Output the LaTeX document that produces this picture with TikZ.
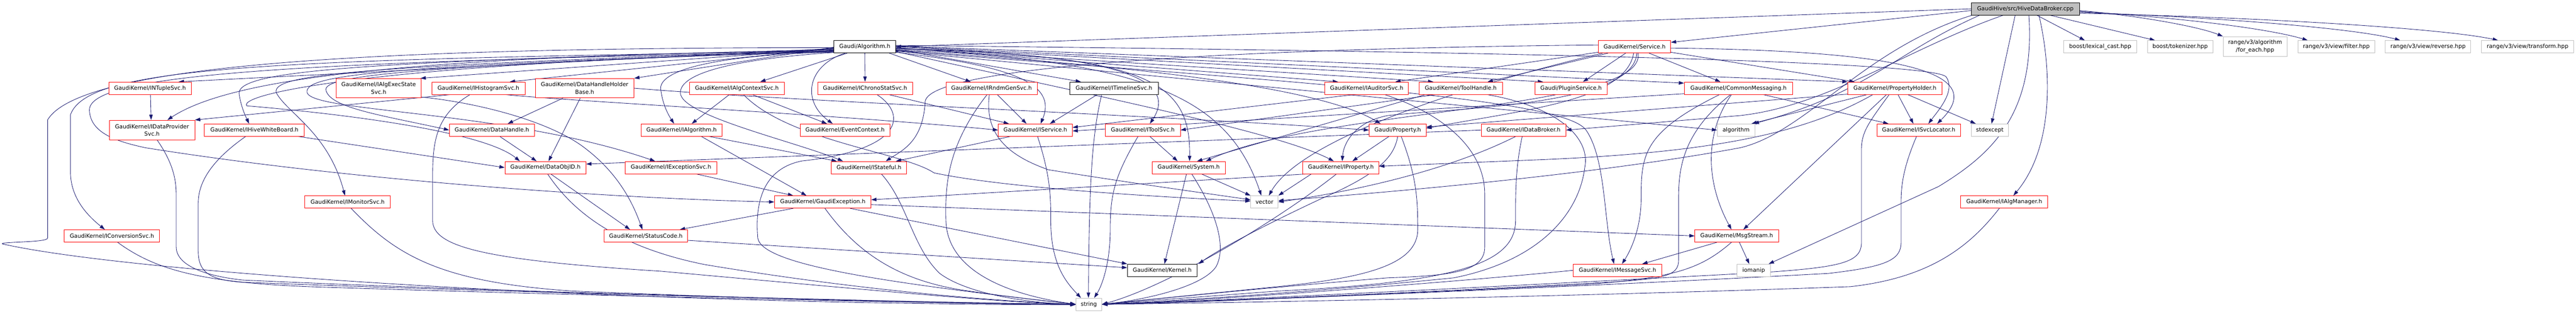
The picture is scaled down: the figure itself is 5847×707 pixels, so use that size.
\documentclass[tikz,border=0pt]{standalone}
\usepackage{fontspec}
\setmainfont{DejaVu Sans}
\usetikzlibrary{arrows.meta,calc}
\definecolor{edgec}{HTML}{191970}
\definecolor{redc}{HTML}{FF0000}
\definecolor{grayc}{HTML}{BFBFBF}
\pgfdeclarelayer{bg}
\pgfsetlayers{bg,main}
\begin{document}
\begin{tikzpicture}[x=1pt,y=-1pt,
  boxbase/.style={rectangle, fill=white, inner sep=0pt, minimum height=28pt, line width=1pt, font=\fontsize{12.7}{17}\selectfont, text=black, align=center},
  rnode/.style={boxbase, draw=redc},
  bnode/.style={boxbase, draw=black},
  gnode/.style={boxbase, draw=grayc},
  rootnode/.style={boxbase, draw=black, fill=grayc},
  e/.style={draw=edgec, line width=1pt, -{Triangle[length=12pt,width=8pt]}}]
\useasboundingbox (0,0) rectangle (5847,707);
% row 0
\node[rootnode, minimum width=246] (root) at (4597,20) {GaudiHive/src/HiveDataBroker.cpp};
% row 1
\node[bnode, minimum width=140] (alg) at (1963,106) {Gaudi/Algorithm.h};
\node[rnode, minimum width=164] (svc) at (3710,106) {GaudiKernel/Service.h};
\node[gnode, minimum width=166] (lexcast) at (4767,106) {boost/lexical\_cast.hpp};
\node[gnode, minimum width=149] (tokenizer) at (4948.5,106) {boost/tokenizer.hpp};
\node[gnode, minimum width=145, minimum height=45] (foreach) at (5118.5,105.5) {range/v3/algorithm\\/for\_each.hpp};
\node[gnode, minimum width=174] (filter) at (5303,106) {range/v3/view/filter.hpp};
\node[gnode, minimum width=194] (reverse) at (5511,106) {range/v3/view/reverse.hpp};
\node[gnode, minimum width=210] (transform) at (5737,106) {range/v3/view/transform.hpp};
% row 2
\node[rnode, minimum width=187] (ntuple) at (340.5,200) {GaudiKernel/INTupleSvc.h};
\node[rnode, minimum width=193, minimum height=44] (execstate) at (859.5,200) {GaudiKernel/IAlgExecState\\Svc.h};
\node[rnode, minimum width=212] (histo) at (1086,200) {GaudiKernel/IHistogramSvc.h};
\node[rnode, minimum width=224, minimum height=44] (dhhb) at (1327,200) {GaudiKernel/DataHandleHolder\\Base.h};
\node[rnode, minimum width=215] (algctx) at (1672.5,200) {GaudiKernel/IAlgContextSvc.h};
\node[rnode, minimum width=215] (chrono) at (1963.5,200) {GaudiKernel/IChronoStatSvc.h};
\node[rnode, minimum width=207] (rndm) at (2250.5,200) {GaudiKernel/IRndmGenSvc.h};
\node[bnode, minimum width=201] (timeline) at (2528.5,200) {GaudiKernel/ITimelineSvc.h};
\node[rnode, minimum width=190] (auditor) at (3102,200) {GaudiKernel/IAuditorSvc.h};
\node[rnode, minimum width=189] (toolhandle) at (3315.5,200) {GaudiKernel/ToolHandle.h};
\node[rnode, minimum width=164] (plugin) at (3566,200) {Gaudi/PluginService.h};
\node[rnode, minimum width=246] (commonmsg) at (3946,200) {GaudiKernel/CommonMessaging.h};
\node[rnode, minimum width=214] (propholder) at (4301,200) {GaudiKernel/PropertyHolder.h};
% row 3
\node[rnode, minimum width=194, minimum height=45] (dataprov) at (345,295) {GaudiKernel/IDataProvider\\Svc.h};
\node[rnode, minimum width=227] (whiteboard) at (577.5,295) {GaudiKernel/IHiveWhiteBoard.h};
\node[rnode, minimum width=193] (datahandle) at (1116.5,295) {GaudiKernel/DataHandle.h};
\node[rnode, minimum width=184] (ialg) at (1547,295) {GaudiKernel/IAlgorithm.h};
\node[rnode, minimum width=204] (evctx) at (1918,295) {GaudiKernel/EventContext.h};
\node[rnode, minimum width=168] (iservice) at (2350,295) {GaudiKernel/IService.h};
\node[rnode, minimum width=170] (toolsvc) at (2594,295) {GaudiKernel/IToolSvc.h};
\node[rnode, minimum width=129] (property) at (3172.5,295) {Gaudi/Property.h};
\node[rnode, minimum width=192] (databroker) at (3458,295) {GaudiKernel/IDataBroker.h};
\node[gnode, minimum width=85] (algorithm) at (3940.5,295) {algorithm};
\node[rnode, minimum width=190] (svcloc) at (4355,295) {GaudiKernel/ISvcLocator.h};
\node[gnode, minimum width=85] (stdexcept) at (4516.5,295) {stdexcept};
% row 4
\node[rnode, minimum width=184] (dataobjid) at (1238,380) {GaudiKernel/DataObjID.h};
\node[rnode, minimum width=208] (excsvc) at (1523,380) {GaudiKernel/IExceptionSvc.h};
\node[rnode, minimum width=171] (stateful) at (1972.5,380) {GaudiKernel/IStateful.h};
\node[rnode, minimum width=166] (system) at (2698,380) {GaudiKernel/System.h};
\node[rnode, minimum width=173] (iproperty) at (3043.5,380) {GaudiKernel/IProperty.h};
% row 5
\node[rnode, minimum width=194] (monitor) at (789,458) {GaudiKernel/IMonitorSvc.h};
\node[rnode, minimum width=219] (gexc) at (1867.5,458) {GaudiKernel/GaudiException.h};
\node[gnode, minimum width=62] (vector) at (2870,458) {vector};
\node[rnode, minimum width=198] (algmgr) at (4549,458) {GaudiKernel/IAlgManager.h};
% row 6
\node[rnode, minimum width=216] (convsvc) at (254,535) {GaudiKernel/IConversionSvc.h};
\node[rnode, minimum width=190] (statuscode) at (1466,535) {GaudiKernel/StatusCode.h};
\node[rnode, minimum width=190] (msgstream) at (3942,535) {GaudiKernel/MsgStream.h};
% row 7
\node[bnode, minimum width=158] (kernel) at (2638,613) {GaudiKernel/Kernel.h};
\node[rnode, minimum width=201] (imsgsvc) at (3671.5,613) {GaudiKernel/IMessageSvc.h};
\node[gnode, minimum width=75] (iomanip) at (3980.5,613) {iomanip};
% row 8
\node[gnode, minimum width=59] (string) at (2471.5,690) {string};

\begin{pgfonlayer}{bg}
% root
\draw[e] (root.west) -- (alg.east);
\draw[e] ($(root.west)+(0,4)$) -- ($(svc.east)+(0,-10)$);
\draw[e] ($(root.south)+(26,0)$) -- ($(lexcast.north)+(-35,0)$);
\draw[e] ($(root.south)+(56,0)$) -- ($(tokenizer.north)+(-57,0)$);
\draw[e] ($(root.east)+(0,4)$) .. controls (4850,35) and (4990,60) .. (foreach.north west);
\draw[e] ($(root.east)+(0,6)$) .. controls (4950,40) and (5150,65) .. ($(filter.north)+(-65,0)$);
\draw[e] ($(root.east)+(0,8)$) .. controls (5050,40) and (5350,65) .. ($(reverse.north)+(-63,0)$);
\draw[e] ($(root.east)+(0,10)$) .. controls (5150,40) and (5550,65) .. ($(transform.north)+(-67,0)$);
\draw[e] ($(root.south)+(-23,0)$) -- ($(stdexcept.north)+(4,0)$);
\draw[e] ($(root.south)+(31,0)$) .. controls (4655,150) and (4665,330) .. ($(algmgr.north)+(21,0)$);
\draw[e] ($(root.south)+(8,0)$) .. controls (4620,260) and (4520,350) .. (4400,423) -- ($(iomanip.north east)+(-4,0)$);
\draw[e] ($(root.south)+(-50,0)$) .. controls (4330,110) and (4150,240) .. (3950,262) -- (databroker.east);
\draw[e] ($(root.south west)+(3,0)$) .. controls (4230,110) and (4100,300) .. (3950,335) .. controls (3600,400) and (3100,440) .. ($(vector.east)+(0,-3)$);
\draw[e] ($(root.south west)+(20,0)$) .. controls (4300,120) and (4240,210) .. ($(algorithm.north east)+(-3,0)$);
% service
\draw[e] ($(svc.south)+(-20,0)$) -- ($(plugin.north)+(27,0)$);
\draw[e] ($(svc.south)+(33,0)$) -- ($(commonmsg.north)+(-41,0)$);
\draw[e] ($(svc.south east)+(0,-2)$) -- ($(propholder.north west)+(16,0)$);
\draw[e] ($(svc.east)+(0,3)$) .. controls (4300,115) and (4520,160) .. ($(svcloc.north)+(42,0)$);
\draw[e] ($(svc.south west)+(0,-2)$) -- ($(auditor.north)+(65,0)$);
\draw[e] ($(svc.south)+(-60,0)$) -- ($(toolhandle.north)+(61,0)$);
\draw[e] ($(svc.south)+(-2,0)$) .. controls (3690,230) and (3450,250) .. ($(property.east)+(0,-4)$);
\draw[e] ($(svc.south)+(5,0)$) .. controls (3710,240) and (3300,245) .. (3150,262) .. controls (3080,275) and (3050,320) .. ($(iproperty.north)+(3,0)$);
\draw[e] ($(svc.south)+(8,0)$) .. controls (3740,250) and (3000,245) .. ($(system.north)+(39,0)$);
\draw[e] ($(svc.west)+(0,-4)$) .. controls (2800,110) and (2110,150) .. (2100,230) .. controls (2095,320) and (2050,340) .. ($(stateful.north)+(38,0)$);
\draw[e] ($(svc.south west)+(10,0)$) .. controls (3300,200) and (2950,320) .. ($(vector.north)+(10,0)$);
% algorithm.h
\draw[e] ($(alg.west)+(0,4)$) -- ($(ntuple.north east)+(-29,0)$);
\draw[e] ($(alg.west)+(0,8)$) .. controls (900,128) and (520,180) .. ($(dataprov.north)+(35,0)$);
\draw[e] ($(alg.west)+(0,10)$) .. controls (600,135) and (200,150) .. (160,260) -- (160,390) .. controls (160,450) and (200,490) .. ($(convsvc.north)+(-16,0)$);
\draw[e] ($(alg.west)+(0,2)$) .. controls (800,108) and (180,150) .. (108,272) -- (108,540) .. controls (108,550) and (0,548) .. (5,553) .. controls (300,620) and (1400,690) .. ($(string.west)+(0,1)$);
\draw[e] ($(alg.west)+(0,11)$) .. controls (700,140) and (200,165) .. (203,250) .. controls (205,300) and (260,320) .. (330,335) .. controls (800,410) and (1400,450) .. (gexc.west);
\draw[e] ($(alg.west)+(0,6)$) .. controls (800,140) and (530,160) .. (543,215) .. controls (548,245) and (558,265) .. ($(whiteboard.north)+(-12,0)$);
\draw[e] ($(alg.west)+(0,7)$) .. controls (850,150) and (615,165) .. (627,210) .. controls (650,255) and (745,300) .. ($(monitor.north)+(-6,0)$);
\draw[e] ($(alg.west)+(0,5)$) -- ($(execstate.north east)+(-2,0)$);
\draw[e] ($(alg.west)+(0,3)$) -- ($(histo.north)+(71,0)$);
\draw[e] ($(alg.west)+(0,1)$) -- (dhhb.north east);
\draw[e] ($(alg.west)+(0,9)$) .. controls (950,150) and (730,170) .. (740,205) .. controls (750,245) and (870,262) .. (datahandle.west);
\draw[e] ($(alg.west)+(0,10)$) .. controls (850,150) and (690,170) .. (697,210) .. controls (710,255) and (1150,250) .. ($(excsvc.north)+(-36,0)$);
\draw[e] ($(alg.west)+(0,12)$) .. controls (900,140) and (540,210) .. (560,240) .. controls (800,260) and (1100,300) .. ($(dataobjid.north)+(-58,0)$);
\draw[e] ($(alg.south)+(-40,0)$) -- ($(algctx.north)+(53,0)$);
\draw[e] (alg.south) -- (chrono.north);
\draw[e] ($(alg.west)+(0,12)$) .. controls (1620,125) and (1490,160) .. (1500,205) .. controls (1505,240) and (1518,262) .. ($(ialg.north)+(-17,0)$);
\draw[e] ($(alg.south)+(-45,0)$) .. controls (1830,150) and (1820,230) .. ($(evctx.north)+(-28,0)$);
\draw[e] ($(alg.west)+(0,13)$) .. controls (1650,135) and (1535,170) .. (1545,215) .. controls (1560,265) and (1800,320) .. ($(stateful.north)+(-59,0)$);
\draw[e] ($(alg.south east)+(-15,0)$) -- ($(rndm.north)+(-47,0)$);
\draw[e] ($(alg.east)+(0,6)$) -- ($(timeline.north)+(-75,0)$);
\draw[e] ($(alg.south east)+(0,-2)$) .. controls (2300,150) and (2400,190) .. ($(iservice.north)+(12,0)$);
\draw[e] ($(alg.east)+(0,4)$) .. controls (2450,120) and (2690,160) .. ($(toolsvc.north)+(16,0)$);
\draw[e] ($(alg.east)+(0,5)$) .. controls (2600,125) and (2703,180) .. ($(system.north)+(2,0)$);
\draw[e] ($(alg.east)+(0,7)$) .. controls (2620,135) and (2790,230) .. ($(vector.north)+(-7,0)$);
\draw[e] ($(alg.east)+(0,2)$) -- ($(auditor.north)+(-65,0)$);
\draw[e] ($(alg.east)+(0,3)$) -- ($(toolhandle.north)+(-62,0)$);
\draw[e] ($(alg.east)+(0,8)$) .. controls (2600,150) and (3000,200) .. ($(property.north)+(-39,0)$);
\draw[e] (alg.east) -- ($(plugin.north west)+(19,0)$);
\draw[e] ($(alg.east)+(0,-1)$) -- ($(commonmsg.north west)+(0,3)$);
\draw[e] ($(alg.east)+(0,-2)$) -- (propholder.north west);
\draw[e] ($(alg.east)+(0,-3)$) .. controls (3200,115) and (4380,135) .. (4417,174) .. controls (4440,205) and (4400,250) .. ($(svcloc.north)+(22,0)$);
\draw[e] ($(alg.east)+(0,9)$) .. controls (3000,190) and (3550,225) .. (3600,295) .. controls (3645,360) and (3640,500) .. ($(imsgsvc.north)+(-8,0)$);
\draw[e] ($(alg.east)+(0,10)$) -- (algorithm.west);
\draw[e] ($(alg.east)+(0,11)$) .. controls (2500,220) and (2900,300) .. ($(iproperty.north)+(-16,0)$);
% IAlgContextSvc
\draw[e] ($(algctx.south)+(-17,0)$) -- ($(ialg.north)+(23,0)$);
\draw[e] ($(algctx.south)+(35,0)$) -- ($(evctx.north)+(-41,0)$);
\draw[e] ($(algctx.south)+(15,0)$) .. controls (1790,320) and (2050,345) .. (2120,392) .. controls (2300,430) and (2700,450) .. ($(vector.west)+(0,-2)$);
% IChronoStatSvc
\draw[e] ($(chrono.south)+(54,0)$) -- ($(iservice.north)+(-60,0)$);
\draw[e] ($(chrono.south)+(27,0)$) .. controls (2060,260) and (2050,340) .. (1820,365) .. controls (1720,385) and (1715,480) .. (1720,540) .. controls (1730,600) and (2000,640) .. (string.west);
% IRndmGenSvc
\draw[e] ($(rndm.south)+(13,0)$) -- ($(iservice.north)+(-20,0)$);
\draw[e] ($(rndm.south)+(-10,0)$) .. controls (2150,330) and (2145,420) .. (2147,500) .. controls (2150,620) and (2300,670) .. (string.west);
\draw[e] ($(rndm.south)+(-5,0)$) .. controls (2235,300) and (2280,350) .. (2380,385) .. controls (2600,420) and (2750,440) .. ($(vector.west)+(0,-5)$);
% ITimelineSvc
\draw[e] ($(timeline.south)+(-38,0)$) -- ($(iservice.north)+(33,0)$);
\draw[e] ($(timeline.south)+(-28,0)$) .. controls (2480,300) and (2472,400) .. ($(string.north)+(-1,0)$);
% IAuditorSvc
\draw[e] ($(auditor.south)+(-29,0)$) -- ($(iservice.east)+(0,-6)$);
\draw[e] ($(auditor.south)+(41,0)$) .. controls (3280,260) and (3370,340) .. (3370,440) -- (3370,560) .. controls (3370,615) and (3300,625) .. (3150,630) .. controls (2900,650) and (2600,680) .. (string.east);
% ToolHandle
\draw[e] ($(toolhandle.south)+(-57,0)$) -- (toolsvc.east);
\draw[e] ($(toolhandle.south)+(60,0)$) .. controls (3550,245) and (3610,320) .. (3597,380) .. controls (3585,480) and (3500,590) .. (3300,630) .. controls (2900,670) and (2600,685) .. (string.east);
\draw[e] ($(toolhandle.south)+(-80,0)$) -- ($(system.north)+(19,0)$);
% Property
\draw[e] ($(property.south)+(-20,0)$) -- ($(iproperty.north)+(26,0)$);
\draw[e] (property.south) .. controls (3165,350) and (3140,390) .. (3000,450) .. controls (2850,520) and (2760,570) .. ($(kernel.north east)+(3,0)$);
\draw[e] ($(property.south)+(8,0)$) .. controls (3215,400) and (3218,450) .. (3218,520) .. controls (3218,600) and (3100,630) .. (2900,650) .. controls (2700,670) and (2550,685) .. (string.east);
% IProperty
\draw[e] ($(iproperty.south west)+(10,0)$) -- ($(gexc.east)+(0,-5)$);
\draw[e] ($(iproperty.south west)+(20,0)$) -- (vector.north east);
\draw[e] ($(iproperty.south)+(-10,0)$) .. controls (2900,500) and (2650,650) .. (string.east);
% IDataBroker
\draw[e] (databroker.west) -- ($(dataobjid.east)+(0,-8)$);
\draw[e] ($(databroker.south)+(-18,0)$) .. controls (3300,380) and (3100,430) .. (vector.east);
\draw[e] ($(databroker.south)+(-3,0)$) .. controls (3440,380) and (3440,430) .. (3440,500) .. controls (3440,600) and (3300,640) .. (2900,660) .. controls (2700,675) and (2550,686) .. (string.east);
% CommonMessaging
\draw[e] ($(commonmsg.south)+(-16,0)$) .. controls (3870,300) and (3870,410) .. ($(msgstream.north)+(-12,0)$);
\draw[e] ($(commonmsg.south)+(-43,0)$) .. controls (3730,300) and (3725,350) .. (3725,450) .. controls (3725,520) and (3700,570) .. ($(imsgsvc.north)+(10,0)$);
\draw[e] ($(commonmsg.south)+(56,0)$) -- ($(svcloc.north west)+(27,0)$);
\draw[e] ($(commonmsg.south)+(-18,0)$) .. controls (3820,300) and (3810,380) .. (3810,450) -- (3810,590) .. controls (3810,625) and (3780,632) .. (3650,640) .. controls (3200,665) and (2700,685) .. (string.east);
\draw[e] ($(commonmsg.south west)+(0,-2)$) -- ($(iservice.east)+(0,2)$);
% PropertyHolder
\draw[e] ($(propholder.south)+(7,0)$) -- ($(svcloc.north)+(-12,0)$);
\draw[e] ($(propholder.south)+(29,0)$) -- ($(stdexcept.north west)+(11,0)$);
\draw[e] ($(propholder.south)+(-19,0)$) -- ($(msgstream.north)+(15,0)$);
\draw[e] ($(propholder.south)+(-13,0)$) .. controls (4240,280) and (4225,300) .. (4225,340) -- (4225,550) .. controls (4225,595) and (4180,606) .. (4000,618) .. controls (3400,650) and (2700,685) .. (string.east);
\draw[e] ($(propholder.south)+(-63,0)$) -- ($(algorithm.north east)+(-8,0)$);
\draw[e] ($(propholder.south west)+(0,-1)$) -- ($(property.east)+(0,-7)$);
\draw[e] ($(propholder.south)+(-50,0)$) .. controls (4100,300) and (3900,345) .. (3500,362) -- ($(iproperty.east)+(0,-3)$);
% ISvcLocator, IAlgManager
\draw[e] ($(svcloc.south)+(-5,0)$) .. controls (4320,380) and (4315,420) .. (4315,460) -- (4315,550) .. controls (4315,590) and (4280,605) .. (4150,620) .. controls (3500,655) and (2700,686) .. (string.east);
\draw[e] ($(algmgr.south)+(-11,0)$) .. controls (4470,560) and (4380,630) .. (4200,650) .. controls (3500,675) and (2700,688) .. (string.east);
% MsgStream, IMessageSvc
\draw[e] ($(msgstream.south)+(-45,0)$) -- ($(imsgsvc.north east)+(-45,0)$);
\draw[e] ($(msgstream.south)+(6,0)$) -- ($(iomanip.north)+(-10,0)$);
\draw[e] ($(msgstream.south)+(-12,0)$) .. controls (3860,610) and (3800,630) .. (3600,645) .. controls (3200,665) and (2700,687) .. (string.east);
\draw[e] (imsgsvc.west) .. controls (3300,640) and (2700,685) .. (string.east);
% System, IStateful, IService, IToolSvc
\draw[e] ($(system.south)+(-5,0)$) -- ($(kernel.north)+(5,0)$);
\draw[e] ($(system.south)+(29,0)$) -- (vector.north west);
\draw[e] ($(system.south)+(7,0)$) .. controls (2760,480) and (2785,560) .. (2760,605) .. controls (2730,650) and (2600,680) .. (string.east);
\draw[e] ($(stateful.south)+(28,0)$) .. controls (2060,460) and (2070,560) .. (2133,620) .. controls (2200,670) and (2350,688) .. (string.west);
\draw[e] ($(iservice.south)+(-57,0)$) -- ($(stateful.north)+(61,0)$);
\draw[e] ($(iservice.south)+(5,0)$) .. controls (2385,400) and (2385,450) .. (2385,500) .. controls (2385,600) and (2420,640) .. ($(string.north)+(-18,0)$);
\draw[e] ($(toolsvc.south)+(16,0)$) -- ($(system.north)+(-25,0)$);
\draw[e] ($(toolsvc.south)+(-11,0)$) .. controls (2530,400) and (2520,440) .. (2520,520) .. controls (2520,600) and (2500,650) .. ($(string.north)+(12,0)$);
% IAlgorithm, IExceptionSvc, GaudiException, StatusCode
\draw[e] ($(ialg.south)+(63,0)$) -- ($(stateful.north west)+(13,0)$);
\draw[e] ($(ialg.south)+(45,0)$) -- ($(gexc.north)+(-37,0)$);
\draw[e] ($(excsvc.south)+(57,0)$) -- ($(gexc.north)+(-67,0)$);
\draw[e] ($(gexc.south)+(-67,0)$) -- ($(statuscode.north)+(77,0)$);
\draw[e] ($(gexc.south)+(62,0)$) -- (kernel.north west);
\draw[e] ($(gexc.south)+(5,0)$) .. controls (1950,580) and (2050,640) .. (2200,660) .. controls (2300,675) and (2400,685) .. (string.west);
\draw[e] ($(gexc.east)+(0,6)$) -- (msgstream.west);
\draw[e] ($(statuscode.east)+(0,10)$) -- ($(kernel.west)+(0,-6)$);
% DataObjID, DataHandle, DataHandleHolderBase
\draw[e] ($(dataobjid.south)+(12,0)$) -- ($(statuscode.north)+(-36,0)$);
\draw[e] ($(dataobjid.south)+(5,0)$) .. controls (1300,480) and (1400,560) .. (1600,600) .. controls (1900,650) and (2200,680) .. (string.west);
\draw[e] ($(datahandle.south)+(18,0)$) -- ($(dataobjid.north)+(-20,0)$);
\draw[e] ($(dhhb.south)+(-49,0)$) -- ($(datahandle.north)+(36,0)$);
\draw[e] ($(dhhb.south)+(-10,0)$) -- ($(dataobjid.north)+(7,0)$);
\draw[e] (dhhb.east) .. controls (1800,230) and (2600,260) .. (property.west);
% IAlgExecStateSvc, IHistogramSvc
\draw[e] ($(execstate.east)+(0,20)$) .. controls (1100,235) and (1260,280) .. (1333,340) .. controls (1410,400) and (1440,470) .. ($(statuscode.north)+(-8,0)$);
\draw[e] ($(histo.south west)+(43,0)$) -- (dataprov.north east);
\draw[e] ($(histo.south)+(61,0)$) .. controls (1300,230) and (1900,260) .. (iservice.west);
\draw[e] ($(histo.south)+(-19,0)$) .. controls (990,260) and (982,320) .. (982,400) -- (982,500) .. controls (982,560) and (1100,590) .. (1500,615) .. controls (2000,660) and (2300,688) .. (string.west);
% left side
\draw[e] ($(dataprov.south)+(12,0)$) .. controls (400,380) and (400,420) .. (400,450) -- (400,560) .. controls (400,600) and (460,625) .. (550,635) .. controls (1200,665) and (2200,688) .. (string.west);
\draw[e] ($(whiteboard.south)+(100,0)$) -- (dataobjid.west);
\draw[e] ($(whiteboard.south)+(-20,0)$) .. controls (500,350) and (450,400) .. (450,460) -- (450,570) .. controls (450,620) and (480,635) .. (550,640) .. controls (1200,665) and (2200,688) .. (string.west);
\draw[e] ($(monitor.south)+(8,0)$) .. controls (900,580) and (1000,640) .. (1300,660) .. controls (1800,680) and (2200,690) .. (string.west);
\draw[e] ($(convsvc.south)+(13,0)$) .. controls (350,610) and (450,640) .. (700,650) .. controls (1300,670) and (2200,690) .. (string.west);
\draw[e] ($(ntuple.south)+(1,0)$) -- ($(dataprov.north)+(-2,0)$);
\end{pgfonlayer}
\end{tikzpicture}
\end{document}
